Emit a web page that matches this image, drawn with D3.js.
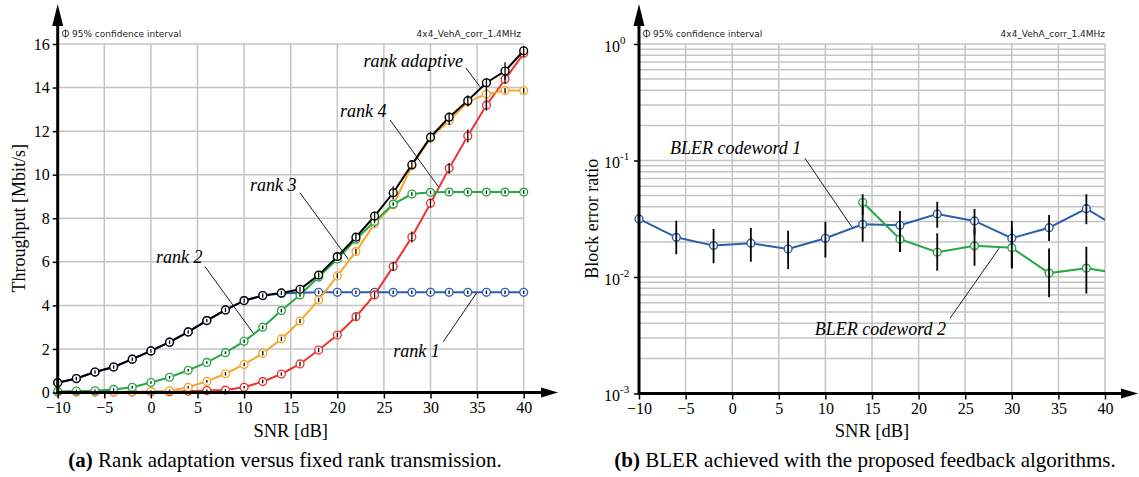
<!DOCTYPE html>
<html><head><meta charset="utf-8">
<script src="https://cdn.jsdelivr.net/npm/d3@7"></script>
<style>
body{margin:0;background:#fff;}
svg{display:block;}
</style></head>
<body>
<svg id="chart" width="1139" height="477"></svg>
<script>
// ---------- data: left chart (throughput) ----------
const snrA = [-10,-8,-6,-4,-2,0,2,4,6,8,10,12,14,16,18,20,22,24,26,28,30,32,34,36,38,40];
const rank1 = [0.45,0.64,0.94,1.17,1.53,1.91,2.31,2.78,3.30,3.79,4.22,4.45,4.55,4.58,4.60,4.60,4.60,4.60,4.60,4.60,4.60,4.60,4.60,4.60,4.60,4.60];
const rank2 = [0.05,0.07,0.08,0.14,0.24,0.46,0.70,1.02,1.38,1.83,2.35,3.00,3.76,4.48,5.30,6.13,7.03,7.85,8.65,9.11,9.19,9.20,9.20,9.20,9.20,9.20];
const rank3 = [0.03,0.03,0.03,0.03,0.04,0.05,0.08,0.24,0.51,0.86,1.29,1.80,2.46,3.28,4.25,5.35,6.47,7.75,8.62,10.40,11.70,12.48,13.34,13.70,13.86,13.86];
const rank4 = [0.02,0.02,0.02,0.02,0.02,0.03,0.04,0.06,0.09,0.11,0.24,0.50,0.85,1.31,1.95,2.64,3.48,4.48,5.79,7.14,8.69,10.29,11.78,13.19,14.38,15.57];
const rankAdaptive = [0.45,0.64,0.94,1.17,1.53,1.91,2.31,2.78,3.30,3.79,4.22,4.45,4.57,4.74,5.39,6.24,7.13,8.10,9.17,10.46,11.72,12.64,13.40,14.22,14.76,15.69];
// 95% confidence half-widths [Mbit/s]
const ciRank1 = [0.08,0.08,0.08,0.08,0.08,0.08,0.08,0.08,0.08,0.08,0.08,0.08,0.08,0.08,0.08,0.08,0.08,0.08,0.08,0.08,0.08,0.08,0.08,0.08,0.08,0.08];
const ciRank2 = [0.06,0.06,0.06,0.06,0.06,0.06,0.06,0.06,0.06,0.06,0.08,0.08,0.08,0.08,0.08,0.08,0.08,0.08,0.08,0.08,0.08,0.08,0.08,0.08,0.08,0.08];
const ciRank3 = [0.05,0.05,0.05,0.05,0.05,0.05,0.05,0.06,0.06,0.08,0.08,0.10,0.10,0.10,0.10,0.12,0.12,0.15,0.15,0.15,0.15,0.20,0.20,0.70,0.12,0.12];
const ciRank4 = [0.05,0.05,0.05,0.05,0.05,0.05,0.05,0.05,0.05,0.05,0.06,0.08,0.08,0.10,0.10,0.12,0.15,0.15,0.20,0.25,0.20,0.25,0.30,0.25,0.20,0.15];
const ciAdaptive = [0.08,0.08,0.08,0.08,0.08,0.08,0.08,0.08,0.08,0.10,0.10,0.10,0.10,0.12,0.12,0.15,0.15,0.20,0.30,0.20,0.25,0.20,0.25,0.20,0.40,0.20];
const yTicksA = [0,2,4,6,8,10,12,14,16];
const xTicks = [-10,-5,0,5,10,15,20,25,30,35,40];

// ---------- data: right chart (BLER) ----------
const snrB = [-10,-6,-2,2,6,10,14,18,22,26,30,34,38,42];
const blerCw1 = [0.0315,0.0219,0.0186,0.0195,0.0174,0.0215,0.0283,0.0278,0.0347,0.0303,0.0215,0.0265,0.0386,0.0248];
const blerCw1Lo = [null,0.0157,0.0131,0.0135,0.0117,0.0147,0.0201,0.0165,0.0265,0.0229,0.0119,0.0204,0.0283,null];
const blerCw1Hi = [null,0.0304,0.0258,0.0263,0.0250,0.0298,0.0415,0.0369,0.0443,0.0384,0.0303,0.0341,0.0513,null];
const snrB2 = [14,18,22,26,30,34,38,42];
const blerCw2 = [0.0438,0.0211,0.0163,0.0185,0.0178,0.0108,0.0119,0.0106];
const blerCw2Lo = [0.0341,0.0165,0.0113,0.0125,0.0119,0.0067,0.0072,null];
const blerCw2Hi = [0.0513,0.0278,0.0237,0.0263,0.0258,0.0176,0.0182,null];
const yTicksB = [1e-3,1e-2,1e-1,1];
const yTickExp = ["-3","-2","-1","0"];

const colors = {rank1:"#2a5fad", rank2:"#26a846", rank3:"#f7a52c", rank4:"#ea3430", adaptive:"#000000"};

const svg = d3.select("#chart");
const serif = '"Liberation Serif","Times New Roman",serif';
const sans = '"DejaVu Sans","Liberation Sans",sans-serif';
const gridCol = "#c4c4c4";

function styleTicks(g) {
  g.attr("font-family", null).attr("font-size", null);
  g.select(".domain").remove();
  g.selectAll(".tick line").attr("stroke","#000").attr("stroke-width",1.5);
  g.selectAll(".tick text").style("font-family",serif).style("font-size","16px").attr("fill","#000");
}

// ================= LEFT CHART =================
const xL = d3.scaleLinear().domain([-10,40]).range([57.7,523.7]);
const yL = d3.scaleLinear().domain([0,16]).range([392.5,44]);
const gL = svg.append("g");

// grid
gL.append("g").selectAll("line").data(xTicks.slice(1)).join("line")
  .attr("x1",d=>xL(d)).attr("x2",d=>xL(d)).attr("y1",yL(0)).attr("y2",yL(16))
  .attr("stroke",gridCol).attr("stroke-width",1.5);
gL.append("g").selectAll("line").data(yTicksA.slice(1)).join("line")
  .attr("x1",xL(-10)).attr("x2",xL(40)).attr("y1",d=>yL(d)).attr("y2",d=>yL(d))
  .attr("stroke",gridCol).attr("stroke-width",1.5);

function drawSeries(g, x, y, xs, ys, ci, color, lo, hi, dots) {
  const pts = xs.map((s,i)=>({s, v:ys[i], lo: lo?lo[i]:(ci? ys[i]-ci[i]:null), hi: hi?hi[i]:(ci? ys[i]+ci[i]:null)}));
  g.append("path").datum(pts)
    .attr("d", d3.line().x(d=>x(d.s)).y(d=>y(d.v)))
    .attr("fill","none").attr("stroke",color).attr("stroke-width",2);
  g.append("g").selectAll("circle").data(pts).join("circle")
    .attr("cx",d=>x(d.s)).attr("cy",d=>y(d.v)).attr("r",3.9)
    .attr("fill","#fff").attr("stroke",color).attr("stroke-width",1.4);
  g.append("g").selectAll("line").data(pts.filter(d=>d.lo!=null)).join("line")
    .attr("x1",d=>x(d.s)).attr("x2",d=>x(d.s))
    .attr("y1",d=>y(d.lo)).attr("y2",d=>y(d.hi))
    .attr("stroke","#000").attr("stroke-width",dots?1.3:1.8);
}

const plotL = gL.append("g");
drawSeries(plotL, xL, yL, snrA, rank1, ciRank1, colors.rank1, null, null, true);
drawSeries(plotL, xL, yL, snrA, rank4, ciRank4, colors.rank4, null, null, true);
drawSeries(plotL, xL, yL, snrA, rank3, ciRank3, colors.rank3, null, null, true);
drawSeries(plotL, xL, yL, snrA, rank2, ciRank2, colors.rank2, null, null, true);
drawSeries(plotL, xL, yL, snrA, rankAdaptive, ciAdaptive, colors.adaptive, null, null, true);

// axes
function drawAxes(g, x0, y0, xEnd, yEnd) {
  g.append("line").attr("x1",x0).attr("x2",xEnd-14).attr("y1",y0).attr("y2",y0)
    .attr("stroke","#000").attr("stroke-width",3);
  g.append("path").attr("d",`M${xEnd},${y0} L${xEnd-17},${y0-5} L${xEnd-17},${y0+5} Z`).attr("fill","#000");
  g.append("line").attr("x1",x0).attr("x2",x0).attr("y1",y0+1.5).attr("y2",yEnd+16)
    .attr("stroke","#000").attr("stroke-width",3);
  g.append("path").attr("d",`M${x0},${yEnd} L${x0-5.5},${yEnd+22} L${x0+5.5},${yEnd+22} Z`).attr("fill","#000");
}
drawAxes(gL, xL(-10), yL(0), 558, 4);

const xAxisL = d3.axisBottom(xL).tickValues(xTicks).tickSize(6).tickPadding(3).tickFormat(d3.format("d"));
gL.append("g").attr("transform",`translate(0,${yL(0)})`).call(xAxisL).call(styleTicks);
const yAxisL = d3.axisLeft(yL).tickValues(yTicksA).tickSize(5).tickPadding(3).tickFormat(d3.format("d"));
gL.append("g").attr("transform",`translate(${xL(-10)},0)`).call(yAxisL).call(styleTicks);

// titles
gL.append("text").attr("x",(xL(-10)+xL(40))/2).attr("y",437).attr("text-anchor","middle")
  .style("font-family",serif).style("font-size","18.5px").text("SNR [dB]");
gL.append("text").attr("transform",`translate(25,${(yL(0)+yL(16))/2}) rotate(-90)`).attr("text-anchor","middle")
  .style("font-family",serif).style("font-size","18px").text("Throughput [Mbit/s]");

function ciNote(g, x, y) {
  g.append("circle").attr("cx",x+3.5).attr("cy",y-3.5).attr("r",3.2).attr("fill","none").attr("stroke","#222").attr("stroke-width",0.9);
  g.append("line").attr("x1",x+3.5).attr("x2",x+3.5).attr("y1",y-7.3).attr("y2",y+0.3).attr("stroke","#222").attr("stroke-width",0.9);
  g.append("text").attr("x",x+10).attr("y",y).style("font-family",sans).style("font-size","9px").attr("fill","#222")
    .text("95% confidence interval");
}
ciNote(gL, 62, 37);
gL.append("text").attr("x",521).attr("y",37).attr("text-anchor","end").style("font-family",sans)
  .style("font-size","9px").attr("fill","#222").text("4x4_VehA_corr_1.4MHz");

// annotations (data coordinates)
function annot(g, x, y, label, tx, ty, lx1, ly1, lx2, ly2, anchor) {
  g.append("line").attr("x1",x(lx1)).attr("y1",y(ly1)).attr("x2",x(lx2)).attr("y2",y(ly2))
    .attr("stroke","#000").attr("stroke-width",0.9);
  g.append("text").attr("x",x(tx)).attr("y",y(ty)).attr("text-anchor",anchor||"start")
    .style("font-family",serif).style("font-size","18px").style("font-style","italic").text(label);
}
annot(gL, xL, yL, "rank adaptive", 22.8, 14.96, 33.8, 14.9, 35.3, 14.04);
annot(gL, xL, yL, "rank 4", 20.3, 12.64, 25.66, 12.51, 30.84, 9.45);
annot(gL, xL, yL, "rank 3", 10.63, 9.25, 16.0, 9.17, 21.18, 6.12);
annot(gL, xL, yL, "rank 2", 0.55, 5.93, 5.8, 5.78, 10.99, 2.72);
annot(gL, xL, yL, "rank 1", 26.0, 1.62, 31.37, 2.33, 34.96, 4.58);

// caption
const capA = gL.append("text").attr("x",285).attr("y",467).attr("text-anchor","middle")
  .style("font-family",serif).style("font-size","21px");
capA.append("tspan").style("font-weight","bold").text("(a)");
capA.append("tspan").text(" Rank adaptation versus fixed rank transmission.");

// ================= RIGHT CHART =================
const xR = d3.scaleLinear().domain([-10,40]).range([639,1105]);
const yR = d3.scaleLog().domain([1e-3,1]).range([393.5,44]);
const gR = svg.append("g");

const minor = [];
[1e-3,1e-2,1e-1].forEach(dec=>{ for(let k=2;k<=10;k++) minor.push(dec*k); });
gR.append("g").selectAll("line").data(minor).join("line")
  .attr("x1",xR(-10)).attr("x2",xR(40)).attr("y1",d=>yR(d)).attr("y2",d=>yR(d))
  .attr("stroke",gridCol).attr("stroke-width",1.5);
gR.append("g").selectAll("line").data(xTicks.slice(1)).join("line")
  .attr("x1",d=>xR(d)).attr("x2",d=>xR(d)).attr("y1",yR(1e-3)).attr("y2",yR(1))
  .attr("stroke",gridCol).attr("stroke-width",1.5);

svg.append("defs").append("clipPath").attr("id","clipR").append("rect")
  .attr("x",xR(-10)-6).attr("y",yR(1)-6).attr("width",xR(40)-xR(-10)+6).attr("height",yR(1e-3)-yR(1)+12);
const plotR = gR.append("g").attr("clip-path","url(#clipR)");
drawSeries(plotR, xR, yR, snrB, blerCw1, null, colors.rank1, blerCw1Lo, blerCw1Hi, false);
drawSeries(plotR, xR, yR, snrB2, blerCw2, null, colors.rank2, blerCw2Lo, blerCw2Hi, false);

drawAxes(gR, xR(-10), yR(1e-3), 1138, 4);
const xAxisR = d3.axisBottom(xR).tickValues(xTicks).tickSize(6).tickPadding(3).tickFormat(d3.format("d"));
gR.append("g").attr("transform",`translate(0,${yR(1e-3)})`).call(xAxisR).call(styleTicks);
const yAxisR = d3.axisLeft(yR).tickValues(yTicksB).tickSize(5).tickPadding(3).tickFormat(()=> "");
const yAxR = gR.append("g").attr("transform",`translate(${xR(-10)},0)`).call(yAxisR).call(styleTicks);
yAxR.attr("text-anchor", null);
yAxR.selectAll(".tick text").each(function(d){
  const t = d3.select(this).attr("x",null).attr("dy",null).attr("y",null).attr("text-anchor","start");
  t.append("tspan").attr("x",-35).attr("y",7).text("10");
  t.append("tspan").attr("x",-19).attr("y",-1).style("font-size","11px").text(yTickExp[yTicksB.indexOf(d)]);
});

gR.append("text").attr("x",(xR(-10)+xR(40))/2).attr("y",437).attr("text-anchor","middle")
  .style("font-family",serif).style("font-size","18.5px").text("SNR [dB]");
gR.append("text").attr("transform",`translate(598,${(yR(1e-3)+yR(1))/2}) rotate(-90)`).attr("text-anchor","middle")
  .style("font-family",serif).style("font-size","18px").text("Block error ratio");
ciNote(gR, 643, 37);
gR.append("text").attr("x",1105).attr("y",37).attr("text-anchor","end").style("font-family",sans)
  .style("font-size","9px").attr("fill","#222").text("4x4_VehA_corr_1.4MHz");

annot(gR, xR, yR, "BLER codeword 1", -6.67, 0.113, 7.81, 0.1044, 12.82, 0.0270);
annot(gR, xR, yR, "BLER codeword 2", 22.94, 0.00318, 23.37, 0.00442, 28.63, 0.0176, "end");

const capB = gR.append("text").attr("x",865).attr("y",467).attr("text-anchor","middle")
  .style("font-family",serif).style("font-size","21px");
capB.append("tspan").style("font-weight","bold").text("(b)");
capB.append("tspan").text(" BLER achieved with the proposed feedback algorithms.");
</script>
</body></html>
